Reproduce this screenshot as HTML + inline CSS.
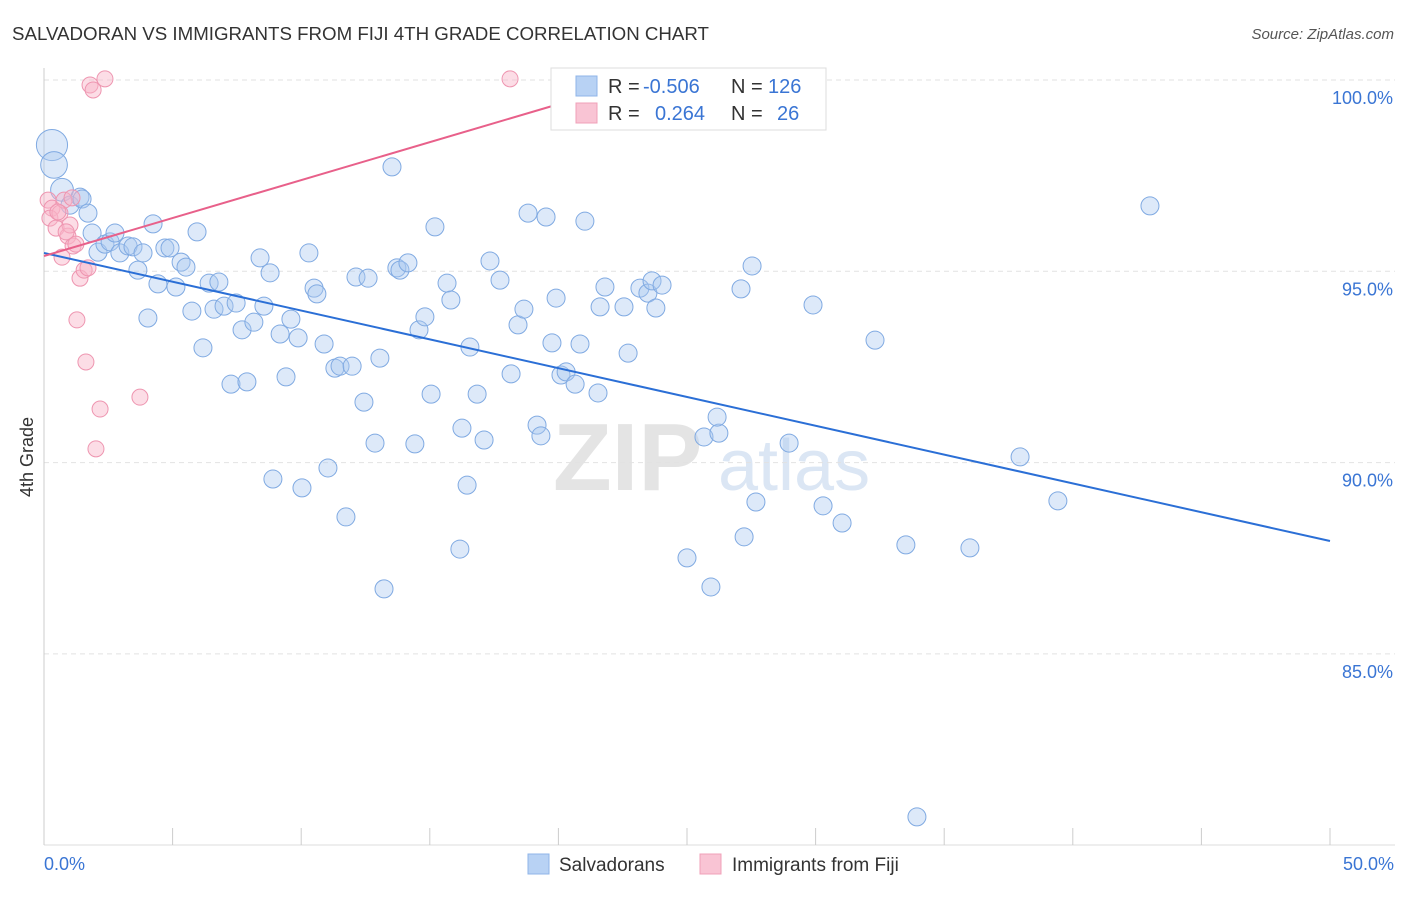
<!DOCTYPE html>
<html><head><meta charset="utf-8"><style>
body{margin:0;background:#fff;font-family:"Liberation Sans",sans-serif}
svg text{font-family:"Liberation Sans",sans-serif}
</style></head><body>
<svg id="chart" width="1406" height="892" xmlns="http://www.w3.org/2000/svg">
<text x="12" y="40" font-size="18" fill="#333" textLength="697" lengthAdjust="spacingAndGlyphs">SALVADORAN VS IMMIGRANTS FROM FIJI 4TH GRADE CORRELATION CHART</text>
<text x="1394" y="39" font-size="15" fill="#555" font-style="italic" text-anchor="end">Source: ZipAtlas.com</text>
<text x="33" y="457" font-size="18" fill="#333" transform="rotate(-90 33 457)" text-anchor="middle">4th Grade</text>
<g><text x="553" y="490" font-size="96" fill="#e4e4e4" font-family="Liberation Serif, serif" font-weight="bold">ZIP</text><text x="718" y="490" font-size="72" fill="#dbe6f4">atlas</text></g>
<g id="grid"></g><g id="axes"></g><g id="pts"></g><g id="lines"></g>
<g>
<rect x="551" y="68" width="275" height="62" fill="#fff" stroke="#ddd"/>
<rect x="576" y="76" width="21" height="20" fill="#b8d2f4" stroke="#8fb4e8"/>
<rect x="576" y="103" width="21" height="20" fill="#f9c4d4" stroke="#f0a0b8"/>
<text x="608" y="93" font-size="20" fill="#333">R =</text><text x="643" y="93" font-size="20" fill="#3a75d4">-0.506</text>
<text x="731" y="93" font-size="20" fill="#333">N =</text><text x="768" y="93" font-size="20" fill="#3a75d4">126</text>
<text x="608" y="120" font-size="20" fill="#333">R =</text><text x="655" y="120" font-size="20" fill="#3a75d4">0.264</text>
<text x="731" y="120" font-size="20" fill="#333">N =</text><text x="777" y="120" font-size="20" fill="#3a75d4">26</text>
</g>
<g>
<rect x="528" y="854" width="21" height="20" fill="#b8d2f4" stroke="#8fb4e8"/>
<text x="559" y="871" font-size="19" fill="#333">Salvadorans</text>
<rect x="700" y="854" width="21" height="20" fill="#f9c4d4" stroke="#f0a0b8"/>
<text x="732" y="871" font-size="19" fill="#333">Immigrants from Fiji</text>
</g>
</svg>
<script>
const yTicks=[100,95,90,85];
const yTickLabels=["100.0%","95.0%","90.0%","85.0%"];
const xTicks=[0,5,10,15,20,25,30,35,40,45,50];
const blueX=[.31,.39,.70,1.01,1.40,1.48,1.71,1.87,2.10,2.37,2.57,2.76,2.95,3.27,3.46,3.65,3.85,4.04,4.24,4.43,4.70,4.90,5.13,5.33,5.52,5.75,5.95,6.18,6.42,6.61,6.80,7.00,7.27,7.47,7.70,7.89,8.16,8.40,8.55,8.79,9.18,9.41,9.60,9.88,10.30,10.50,10.61,10.89,11.04,11.31,11.51,11.74,11.98,12.13,12.44,12.60,12.87,13.06,13.22,13.53,13.72,13.84,14.15,14.42,14.58,14.81,15.05,15.20,15.67,15.82,16.25,16.45,16.56,16.84,17.11,17.34,17.73,18.16,18.43,18.66,18.82,19.17,19.32,19.52,19.75,19.91,20.10,20.30,20.65,20.84,21.03,21.54,21.62,21.81,22.55,22.71,23.17,23.48,23.64,23.79,24.03,25.00,25.66,25.93,26.24,26.17,27.22,27.10,27.53,27.68,28.97,29.90,30.29,31.03,32.31,33.51,36.00,37.95,39.42,43.00,33.94,16.17,10.03,8.90];
const blueY=[98.30,97.78,97.13,96.73,96.94,96.89,96.52,96.00,95.50,95.71,95.77,96.00,95.48,95.66,95.64,95.03,95.48,93.78,96.24,94.67,95.61,95.61,94.59,95.24,95.11,93.96,96.03,93.00,94.69,94.01,94.72,94.09,92.05,94.17,93.47,92.11,93.67,95.35,94.09,94.96,93.36,92.24,93.75,93.26,95.48,94.56,94.41,93.10,89.86,92.47,92.52,88.58,92.52,94.85,91.58,94.82,90.51,92.73,86.70,97.73,95.09,95.03,95.22,90.49,93.47,93.81,91.79,96.16,94.69,94.25,90.90,89.41,93.02,91.79,90.59,95.27,94.77,92.32,93.60,94.01,96.52,90.98,90.70,96.42,93.13,94.30,92.29,92.37,92.05,93.10,96.31,91.82,94.07,94.59,94.07,92.86,94.56,94.43,94.75,94.04,94.64,87.51,90.67,86.75,90.77,91.19,88.06,94.54,95.14,88.97,90.51,94.12,88.87,88.42,93.20,87.85,87.77,90.15,89.00,96.71,80.74,87.74,89.34,89.57];
const blueWeight=[3,2.2,1.6];
const pinkX=[.16,.31,.23,.47,.62,.78,.93,1.01,1.13,1.24,1.40,1.56,1.71,.70,1.28,1.63,2.18,3.73,2.02,1.79,1.91,2.37,18.12,.54,.86,1.09];
const pinkY=[96.86,96.65,96.39,96.13,96.52,96.86,95.92,96.21,95.66,95.71,94.82,95.03,95.09,95.37,93.73,92.63,91.40,91.71,90.36,99.87,99.74,100.03,100.03,96.55,96.03,96.92];
const blueTrend=[95.48,87.95];
const pinkTrend=[95.40,99.35,19.91];
const X=v=>44+v*25.72, Y=v=>80+(100-v)*38.26;
const NS="http://www.w3.org/2000/svg";
function mk(tag,attrs,parent){const e=document.createElementNS(NS,tag);for(const k in attrs)e.setAttribute(k,attrs[k]);document.getElementById(parent).appendChild(e);return e;}
yTicks.forEach((t,i)=>{
 const l=mk('line',{x1:44,x2:1395,y1:Y(t),y2:Y(t),stroke:'#e2e2e2','stroke-dasharray':'5,4'},'grid');
 
 
 const tx=mk('text',{x:1393,y:Y(t)+24,'font-size':18,fill:'#3a75d4','text-anchor':'end'},'grid');
 tx.textContent=yTickLabels[i];
 
 
});
const ax=mk('line',{x1:44,x2:44,y1:68,y2:845,stroke:'#ccc'},'axes');


const bx=mk('line',{x1:44,x2:1395,y1:845,y2:845,stroke:'#ddd'},'axes');


xTicks.forEach(t=>{
 const l=mk('line',{x1:X(t),x2:X(t),y1:828,y2:845,stroke:'#ccc'},'axes');
 
 
});
[[0,"0.0%",'start',44],[50,"50.0%",'end',1394]].forEach(a=>{
 const tx=mk('text',{x:a[3],y:870,'font-size':18,fill:'#3a75d4','text-anchor':a[2]},'axes');
 tx.textContent=a[1];
 
 
});
blueX.forEach((x,i)=>{
 const c=mk('circle',{cx:X(x),cy:Y(blueY[i]),r:9*(blueWeight[i]?Math.sqrt(blueWeight[i]):1),fill:'rgba(170,200,240,0.4)',stroke:'#80aae2','stroke-width':1},'pts');
 
 
});
pinkX.forEach((x,i)=>{
 const c=mk('circle',{cx:X(x),cy:Y(pinkY[i]),r:8,fill:'rgba(248,180,200,0.45)',stroke:'#ee95b0','stroke-width':1},'pts');
 
 
});
const bl=mk('line',{x1:X(0),y1:Y(blueTrend[0]),x2:X(50),y2:Y(blueTrend[1]),stroke:'#2b6fd6','stroke-width':2},'lines');


const pl=mk('line',{x1:X(0),y1:Y(pinkTrend[0]),x2:X(pinkTrend[2]),y2:Y(pinkTrend[1]),stroke:'#e8608a','stroke-width':2},'lines');


</script>
</body></html>
